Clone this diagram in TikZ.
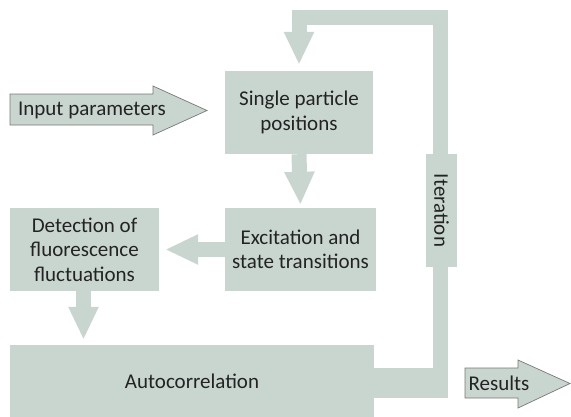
\documentclass[tikz,border=0pt]{standalone}
\usepackage{fontspec}
\setmainfont{Carlito}
\usetikzlibrary{arrows.meta,calc}
\definecolor{boxfill}{RGB}{201,214,207}
\definecolor{txt}{RGB}{35,35,35}
\definecolor{edge}{RGB}{120,120,120}
\tikzset{
  blk/.style={fill=boxfill, draw=none, inner sep=0pt, align=center, text=txt,
    font=\fontsize{21}{24.5}\selectfont},
  conn/.style={draw=boxfill, line width=15pt, line join=miter,
    -{Triangle[width=28pt,length=33pt]}},
  outarrow/.style={fill=boxfill, draw=edge, line width=0.7pt, line join=miter},
  lbl/.style={inner sep=0pt, text=txt, font=\fontsize{21}{24.5}\selectfont}
}
\begin{document}
\begin{tikzpicture}[x=1pt,y=-1pt]
\useasboundingbox (0,0) rectangle (571,416);
% boxes
\node[blk, minimum width=148pt, minimum height=83pt] (single) at (299,112.5) {Single particle\\positions};
\node[blk, minimum width=151pt, minimum height=83pt] (excit) at (300.5,249.5) {Excitation and\\state transitions};
\node[blk, minimum width=149pt, minimum height=83pt] (detect) at (84.5,249.5) {Detection of\\fluorescence\\fluctuations};
\node[blk, minimum width=364pt, minimum height=73pt] (auto) at (192,381.5) {Autocorrelation};
% loop connector
\coordinate (loopA) at (374,368);
\coordinate (loopB) at (447.5,398);
\fill[boxfill] (loopA) rectangle (loopB);
\coordinate (loopS) at (440,398);
\coordinate (loopC) at (440,17.5);
\coordinate (loopD) at (299,17.5);
\draw[conn, shorten >=6pt] (loopS) -- (loopC) -- (loopD) -- (single.north);
\node[blk, minimum width=31pt, minimum height=113pt] (iter) at (441.5,210.5) {};
\node[lbl, rotate=-90] at (iter.center) {Iteration};
% internal connectors
\draw[conn, shorten >=3pt] (single.south) -- (excit.north);
\draw[conn, shorten >=6pt] (excit.west) -- (detect.east);
\draw[conn, shorten >=5pt] ([xshift=-1pt]detect.south) -- ([xshift=-1pt]detect.south |- auto.north);
% input arrow
\draw[outarrow] (10,94) -- (153,94) -- (153,86) -- (207,110.5) -- (153,135) -- (153,125) -- (10,125) -- cycle;
\node[lbl] (input) at (92,110) {Input parameters};
% results arrow
\draw[outarrow] (465,368) -- (518,368) -- (518,360) -- (570,383.5) -- (518,408) -- (518,398) -- (465,398) -- cycle;
\node[lbl] (results) at (499,383) {Results};
\end{tikzpicture}
\end{document}
